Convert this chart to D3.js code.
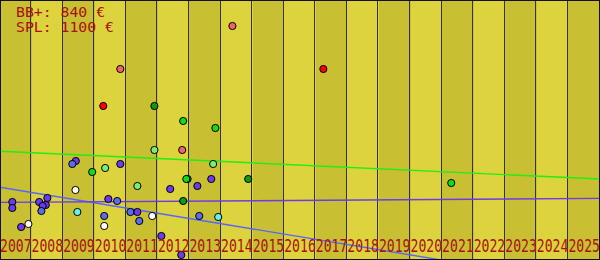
<!DOCTYPE html>
<html>
<head>
<meta charset="utf-8">
<script src="https://cdn.jsdelivr.net/npm/d3@7"></script>
<style>
  html, body { margin: 0; padding: 0; background: #ffffff; }
  svg { display: block; }
</style>
</head>
<body>
<svg id="chart" width="600" height="260"></svg>
<script>
// ---- data ----
const yearLabels = ["2007","2008","2009","2010","2011","2012","2013","2014","2015","2016","2017","2018","2019","2020","2021","2022","2023","2024","2025"];
const legendLines = ["BB+: 840 €", "SPL: 1100 €"];

// points: decimal year, price (€), group
const pointYears = [2010.27, 2017.24, 2010.81, 2014.36, 2012.77,
  2011.89, 2012.80, 2014.86, 2012.94,
  2012.80, 2013.82, 2009.92, 2012.90, 2021.29,
  2011.89, 2010.33, 2011.35, 2013.75,
  2009.40, 2009.29, 2010.81, 2012.39, 2013.25, 2013.69,
  2007.39, 2007.39, 2008.24, 2008.50, 2008.45, 2008.35, 2008.31,
  2007.67, 2007.90, 2009.39, 2009.45,
  2010.43, 2010.71, 2010.30, 2010.30, 2011.13, 2011.35, 2011.41, 2011.82,
  2012.11, 2012.74, 2013.31, 2013.91];
const pointValues = [770, 955, 955, 1170, 550,
  770, 295, 405, 405,
  695, 660, 440, 405, 385,
  550, 460, 370, 480,
  495, 480, 480, 355, 370, 405,
  290, 260, 290, 310, 275, 270, 245,
  165, 180, 350, 240,
  305, 295, 220, 170, 240, 240, 195, 220,
  120, 25, 220, 215];
const pointGroups = ["red", "red", "salmon", "salmon", "salmon",
  "darkgreen", "darkgreen", "darkgreen", "darkgreen",
  "green", "green", "green", "green", "green",
  "lightgreen", "lightgreen", "lightgreen", "lightgreen",
  "purple", "periwinkle", "purple", "purple", "purple", "purple",
  "purple", "purple", "purple", "purple", "purple", "purple", "periwinkle",
  "purple", "white", "white", "cyan",
  "purple", "periwinkle", "periwinkle", "white", "periwinkle", "purple", "periwinkle", "white",
  "purple", "purple", "periwinkle", "cyan"];

// trend lines: start (2007) / end (2026) values
const trendYears = [2007, 2026];
const greenTrend = [544, 405];
const blueTrend = [364, -131];
const purpleTrend = [288, 308];

// ---- styles ----
const groupColor = {
  red: "#ff0000", salmon: "#f26464", darkgreen: "#119a11", green: "#11dd11",
  lightgreen: "#77ee77", purple: "#6a3bef", periwinkle: "#5a6cf0",
  white: "#ffffff", cyan: "#66f0f0"
};
const W = 600, H = 260;
const svg = d3.select("#chart");

const x = d3.scaleLinear().domain([2007, 2026]).range([0, W]);
const y = d3.scaleLinear().domain([0, 1300]).range([H, 0]);

// bands
svg.append("g").selectAll("rect").data(yearLabels).join("rect")
  .attr("x", d => x(+d)).attr("y", 0)
  .attr("width", x(2008) - x(2007) + 0.5).attr("height", H)
  .attr("fill", (d, i) => i % 2 === 0 ? "#c9bf33" : "#ddd33d")
  .attr("shape-rendering", "crispEdges");

// grid lines at band boundaries
svg.append("g").selectAll("line").data(yearLabels.slice(1).concat(["2026"])).join("line")
  .attr("x1", d => Math.floor(x(+d)) - 0.5).attr("x2", d => Math.floor(x(+d)) - 0.5)
  .attr("y1", 0).attr("y2", H)
  .attr("stroke", "#33333f").attr("stroke-width", 1)
  .attr("shape-rendering", "crispEdges");

// clip
svg.append("clipPath").attr("id", "clip").append("rect")
  .attr("x", 0).attr("y", 0).attr("width", W).attr("height", H);

const line = d3.line().x(d => x(d[0])).y(d => y(d[1]));
const lg = svg.append("g").attr("clip-path", "url(#clip)");
[[greenTrend, "#22ee11"], [blueTrend, "#5566ff"], [purpleTrend, "#6a3bef"]].forEach(([vals, col]) => {
  lg.append("path")
    .attr("d", line(trendYears.map((t, i) => [t, vals[i]])))
    .attr("fill", "none").attr("stroke", col).attr("stroke-width", 1.4);
});

// points
const pts = pointYears.map((t, i) => ({ t, v: pointValues[i], g: pointGroups[i] }));
svg.append("g").attr("clip-path", "url(#clip)").selectAll("circle").data(pts).join("circle")
  .attr("cx", d => x(d.t)).attr("cy", d => y(d.v)).attr("r", 3.6)
  .attr("fill", d => groupColor[d.g]).attr("stroke", "#000").attr("stroke-width", 1);

// year labels
svg.append("g").selectAll("text").data(yearLabels).join("text")
  .attr("x", d => x(+d)).attr("y", 252)
  .attr("textLength", x(2008) - x(2007))
  .attr("lengthAdjust", "spacingAndGlyphs")
  .attr("font-family", "DejaVu Sans Mono, monospace")
  .attr("font-size", 18.5)
  .attr("fill", "#aa1111")
  .text(d => d);

// legend
svg.append("g").selectAll("text").data(legendLines).join("text")
  .attr("x", 16).attr("y", (d, i) => 16.5 + i * 15.5)
  .attr("font-family", "DejaVu Sans Mono, monospace")
  .attr("font-size", 14.8)
  .attr("fill", "#aa1111")
  .text(d => d);

// border
svg.append("rect").attr("x", 0.5).attr("y", 0.5).attr("width", W - 1).attr("height", H - 1)
  .attr("fill", "none").attr("stroke", "#111").attr("stroke-width", 1)
  .attr("shape-rendering", "crispEdges");
</script>
</body>
</html>
